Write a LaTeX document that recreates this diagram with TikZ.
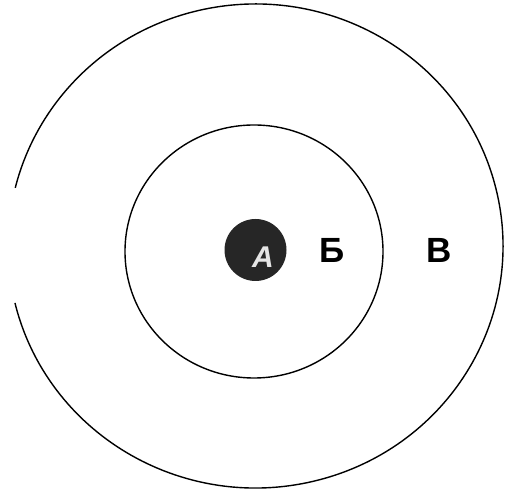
\documentclass[tikz,border=0pt]{standalone}
\usepackage{fontspec}
\setmainfont{Liberation Sans}
\begin{document}
\begin{tikzpicture}[x=1pt,y=1pt,
  ring/.style={draw=black,line width=1.4pt},
  lbl/.style={font=\fontsize{35}{35}\selectfont\bfseries,inner sep=0pt,text=black}]
\useasboundingbox (0,0) rectangle (505,494);
\fill[white] (0,0) rectangle (505,494);
\coordinate (co) at (255.5,248);
\coordinate (ci) at (254,242.5);
% outer ring with gap on left
\draw[ring] ([shift={(193.6:247.5 and 242)}]co) arc[start angle=193.6,end angle=526.1,x radius=247.5,y radius=242];
% inner ring
\draw[ring] (ci) ellipse[x radius=129,y radius=126.5];
% dark disc
\node[circle,fill=black!85,minimum size=62pt,inner sep=0pt] (disc) at (255.5,244) {};
\node[font=\fontsize{30}{30}\selectfont\bfseries\itshape,text=white!90!black,inner sep=0pt] (a) at (263,237) {A};
\node[lbl] (b) at (332,244) {Б};
\node[lbl] (v) at (439.5,244) {В};
\end{tikzpicture}
\end{document}
